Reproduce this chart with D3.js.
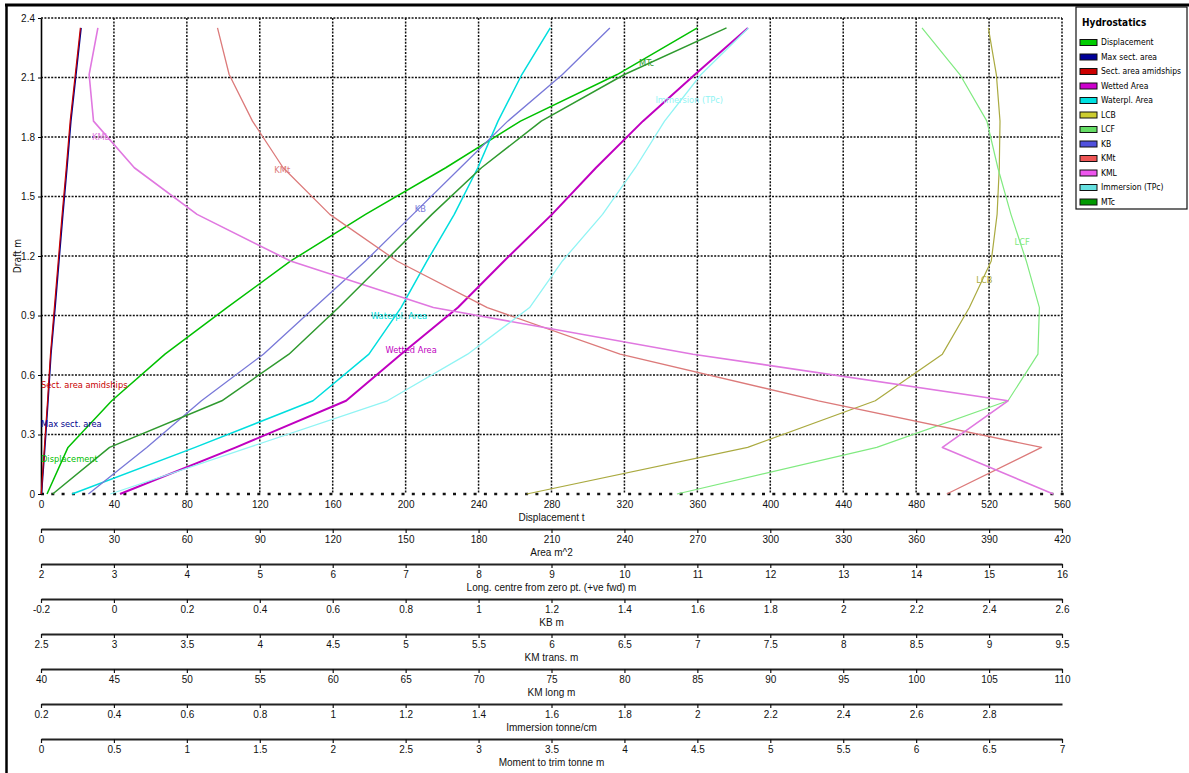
<!DOCTYPE html>
<html>
<head>
<meta charset="utf-8">
<style>
body { margin: 0; background: #fff; }
svg { display: block; font-family: "Liberation Sans Narrow", "DejaVu Sans Condensed", "Liberation Sans", Arial, sans-serif; }
.grid { stroke: #111; stroke-width: 1.5; stroke-dasharray: 2,1.4; fill: none; }
.axis text { font-size: 10px; fill: #111; }
</style>
</head>
<body>
<svg width="1189" height="773"></svg>
<script src="https://cdn.jsdelivr.net/npm/d3@7"></script>
<script>

// hydrostatic table, one value per draft station
var drafts = [0, 0.235, 0.47, 0.705, 0.94, 1.175, 1.41, 1.645, 1.88, 2.115, 2.35];

var displacement      = [3.3, 14.8, 38.8, 68, 102, 137, 178, 222, 263, 316, 360];
var maxSectArea       = [0.2, 1.6, 2.9, 4.1, 5.8, 7.4, 9.0, 10.7, 12.3, 14.4, 16.5];
var sectAreaAmidships = [0.1, 1.4, 2.7, 3.9, 5.5, 7.1, 8.7, 10.4, 12.0, 14.1, 16.2];
var wettedArea        = [32.5, 80.2, 125.5, 148.1, 171.5, 190.5, 210.2, 228.3, 247.6, 269, 290.8];
var waterplArea       = [12.8, 63.4, 111.9, 134.9, 148.1, 158.8, 170, 179.7, 188, 197.8, 209.5];
var lcb               = [8.66, 11.69, 13.44, 14.36, 14.73, 15.03, 15.11, 15.14, 15.15, 15.10, 14.99];
var lcf               = [10.72, 13.46, 15.26, 15.67, 15.69, 15.51, 15.30, 15.12, 14.97, 14.60, 14.08];
var kb                = [-0.07, 0.09, 0.24, 0.41, 0.55, 0.69, 0.82, 0.95, 1.08, 1.23, 1.36];
var kmt               = [8.71, 9.36, 7.83, 6.47, 5.56, 4.94, 4.48, 4.16, 3.95, 3.79, 3.71];
var kml               = [109.4, 101.8, 106.3, 84.7, 66.9, 57.1, 50.7, 46.4, 43.6, 43.3, 43.9];
var tpc               = [0.39, 0.77, 1.15, 1.37, 1.54, 1.63, 1.74, 1.83, 1.91, 2.01, 2.14];
var mtc               = [0.08, 0.47, 1.24, 1.70, 2.04, 2.36, 2.68, 3.02, 3.43, 4.00, 4.70];

var seriesNames  = ["Displacement", "Max sect. area", "Sect. area amidships", "Wetted Area", "Waterpl. Area",
                    "LCB", "LCF", "KB", "KMt", "KML", "Immersion (TPc)", "MTc"];
var seriesValues = [displacement, maxSectArea, sectAreaAmidships, wettedArea, waterplArea,
                    lcb, lcf, kb, kmt, kml, tpc, mtc];
var seriesAxis   = [0, 1, 1, 1, 1, 2, 2, 3, 4, 5, 6, 7];

// the stacked horizontal scales under the plot
var axisTitles  = ["Displacement  t", "Area  m^2", "Long. centre  from zero pt. (+ve fwd)  m", "KB  m",
                   "KM trans.  m", "KM long  m", "Immersion  tonne/cm", "Moment to trim  tonne m"];
var axisDomains = [[0, 560], [0, 420], [2, 16], [-0.2, 2.6], [2.5, 9.5], [40, 110], [0.2, 3.0], [0, 7]];
var axisTicks = [
  [0, 40, 80, 120, 160, 200, 240, 280, 320, 360, 400, 440, 480, 520, 560],
  [0, 30, 60, 90, 120, 150, 180, 210, 240, 270, 300, 330, 360, 390, 420],
  [2, 3, 4, 5, 6, 7, 8, 9, 10, 11, 12, 13, 14, 15, 16],
  [-0.2, 0, 0.2, 0.4, 0.6, 0.8, 1, 1.2, 1.4, 1.6, 1.8, 2, 2.2, 2.4, 2.6],
  [2.5, 3, 3.5, 4, 4.5, 5, 5.5, 6, 6.5, 7, 7.5, 8, 8.5, 9, 9.5],
  [40, 45, 50, 55, 60, 65, 70, 75, 80, 85, 90, 95, 100, 105, 110],
  [0.2, 0.4, 0.6, 0.8, 1, 1.2, 1.4, 1.6, 1.8, 2, 2.2, 2.4, 2.6, 2.8],
  [0, 0.5, 1, 1.5, 2, 2.5, 3, 3.5, 4, 4.5, 5, 5.5, 6, 6.5, 7]
];
var draftTicks = [0, 0.3, 0.6, 0.9, 1.2, 1.5, 1.8, 2.1, 2.4];

var colors = ["#00c000", "#00008c", "#c80000", "#c000c0", "#00dede", "#aaaa40",
              "#80ea80", "#7878d8", "#dc7a7a", "#e078e0", "#90f4f4", "#2f9a2f"];
var widths = [1.5, 1.5, 1.2, 2, 1.5, 1.2, 1.2, 1.3, 1.3, 1.6, 1.3, 1.5];
var swatch = ["#00cc00", "#000099", "#cc0000", "#cc00cc", "#00e0e0", "#cccc30",
              "#66dd66", "#5050dd", "#ee5555", "#ee55ee", "#66e0e0", "#009900"];

var svg = d3.select("svg");

var plotL = 41, plotR = 1062, plotT = 18, plotB = 494, axisGap = 35;

var fmt = function(d) { return String(+d.toFixed(2)); };

var y = d3.scaleLinear().domain([0, 2.4]).range([plotB, plotT]);
var xs = axisDomains.map(function(d) {
  return d3.scaleLinear().domain(d).range([plotL, plotR]);
});

// frame
svg.append("line").attr("x1", 5).attr("x2", 1189).attr("y1", 5).attr("y2", 5)
    .attr("stroke", "#000").attr("stroke-width", 3);
svg.append("line").attr("x1", 6.5).attr("x2", 6.5).attr("y1", 4).attr("y2", 773)
    .attr("stroke", "#000").attr("stroke-width", 2.5);

// grid
var grid = svg.append("g");
grid.selectAll(".vx")
  .data(axisTicks[0].slice(1))
  .enter().append("line")
    .attr("class", "grid")
    .attr("x1", function(d) { return xs[0](d); })
    .attr("x2", function(d) { return xs[0](d); })
    .attr("y1", plotT).attr("y2", plotB);
grid.selectAll(".hy")
  .data(draftTicks.slice(1))
  .enter().append("line")
    .attr("class", "grid")
    .attr("x1", plotL).attr("x2", plotR)
    .attr("y1", function(d) { return y(d); })
    .attr("y2", function(d) { return y(d); });
grid.append("line")
    .attr("x1", plotL).attr("x2", plotR + 2)
    .attr("y1", y(0)).attr("y2", y(0))
    .attr("stroke", "#111").attr("stroke-width", 2.6)
    .attr("stroke-dasharray", "3,7.3");

// draft axis
svg.append("g")
    .attr("class", "axis")
    .attr("transform", "translate(" + plotL + ",0)")
    .call(d3.axisLeft(y).tickValues(draftTicks).tickSize(3).tickSizeOuter(0).tickFormat(fmt))
    .call(function(g) { g.select(".domain").attr("stroke", "#000").attr("stroke-width", 1.6); })
    .call(function(g) { g.selectAll(".tick line").attr("stroke", "#000"); });

svg.append("text")
    .attr("transform", "translate(21," + y(1.2) + ") rotate(-90)")
    .attr("text-anchor", "middle")
    .attr("font-size", 10)
    .attr("fill", "#111")
    .text("Draft  m");

// stacked scales
axisTitles.forEach(function(title, i) {
  var yy = plotB + i * axisGap;
  var g = svg.append("g")
      .attr("class", "axis")
      .attr("transform", "translate(0," + yy + ")")
      .call(d3.axisBottom(xs[i]).tickValues(axisTicks[i]).tickSize(4).tickSizeOuter(0).tickPadding(3)
        .tickFormat(fmt));
  g.selectAll(".tick line").attr("stroke", "#111").attr("stroke-width", 1.2);
  if (i === 0) {
    g.select(".domain").remove();
    g.selectAll(".tick line").remove();
  } else {
    g.select(".domain").attr("stroke", "#222").attr("stroke-width", 2);
  }
  g.append("text")
      .attr("x", (plotL + plotR) / 2)
      .attr("y", 27)
      .attr("text-anchor", "middle")
      .attr("font-size", 9.5)
      .attr("fill", "#111")
      .text(title);
});

// curves
var curves = svg.append("g").attr("fill", "none");
seriesValues.forEach(function(vals, i) {
  var sx = xs[seriesAxis[i]];
  var line = d3.line()
      .x(function(d) { return sx(d); })
      .y(function(d, j) { return y(drafts[j]); });
  curves.append("path")
      .datum(vals)
      .attr("stroke", colors[i])
      .attr("stroke-width", widths[i])
      .attr("stroke-linejoin", "round")
      .attr("d", line);
});

// curve labels: [series index, displacement-scale x, draft]
var labelSpots = [
  [0, 0, 0.176], [1, 0, 0.353], [2, 0, 0.55], [3, 189, 0.726], [4, 181, 0.9],
  [5, 513, 1.08], [6, 534, 1.27], [7, 205, 1.44], [8, 128, 1.634], [9, 28, 1.8],
  [10, 337, 1.987], [11, 328, 2.173]
];
svg.append("g").selectAll("text")
  .data(labelSpots)
  .enter().append("text")
    .attr("x", function(d) { return xs[0](d[1]); })
    .attr("y", function(d) { return y(d[2]); })
    .attr("dy", "0.35em")
    .attr("font-size", 9.2)
    .attr("fill", function(d) { return colors[d[0]]; })
    .text(function(d) { return seriesNames[d[0]]; });

// legend
var legend = svg.append("g").attr("transform", "translate(1076,7)");
legend.append("rect")
    .attr("width", 111).attr("height", 202)
    .attr("fill", "#fff").attr("stroke", "#111").attr("stroke-width", 1.2);
legend.append("text")
    .attr("x", 6).attr("y", 19)
    .attr("font-size", 10).attr("font-weight", "bold")
    .text("Hydrostatics");
var item = legend.selectAll(".item")
  .data(seriesNames)
  .enter().append("g")
    .attr("transform", function(d, i) { return "translate(4," + (32.5 + i * 14.5) + ")"; });
item.append("rect")
    .attr("width", 17).attr("height", 6)
    .attr("fill", function(d, i) { return swatch[i]; })
    .attr("stroke", "#111").attr("stroke-width", 1);
item.append("text")
    .attr("x", 21).attr("y", 3).attr("dy", "0.35em")
    .attr("font-size", 8.5)
    .text(function(d) { return d; });

</script>
</body>
</html>
